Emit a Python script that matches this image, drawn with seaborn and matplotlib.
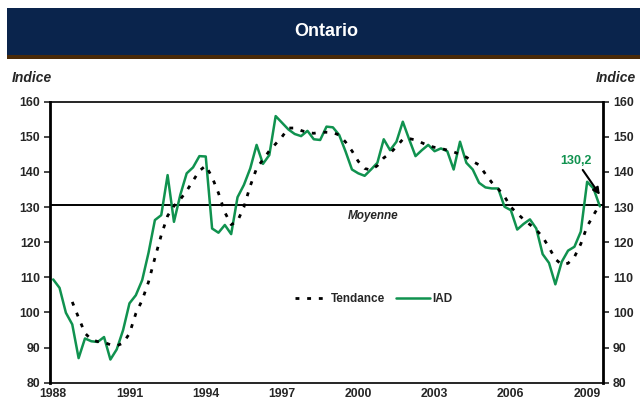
import pandas as pd
import seaborn as sns
import matplotlib.pyplot as plt
from matplotlib.patches import Rectangle

# quarterly data, 1988Q1 .. 2009Q3
iad = [109.4, 107.0, 99.9, 96.6, 87.0, 92.6, 91.8, 91.6, 93.0, 86.6,
       89.5, 95.0, 102.6, 104.9, 109.2, 117.0, 126.3, 127.7, 139.1, 125.8,
       133.5, 139.6, 141.3, 144.5, 144.4, 123.9, 122.7, 124.9, 122.3, 132.8,
       136.3, 141.0, 147.7, 142.3, 144.8, 155.9, 154.0, 152.1, 150.8, 150.2,
       151.7, 149.3, 149.1, 152.9, 152.7, 150.5, 145.8, 140.7, 139.6, 138.9,
       140.7, 142.6, 149.3, 146.2, 148.6, 154.3, 149.3, 144.5, 146.2, 147.7,
       145.9, 146.7, 145.9, 140.7, 148.6, 142.6, 140.7, 136.9, 135.6, 135.3,
       135.3, 130.1, 129.1, 123.6, 125.2, 126.5, 123.9, 116.6, 114.1, 108.0,
       114.4, 117.6, 118.7, 123.0, 137.2, 135.3, 130.2]

tendance = [None, None, None, 103.0, 98.5, 94.1, 92.3, 91.7, 91.5, 90.8,
            90.5, 91.3, 94.0, 99.7, 103.5, 108.7, 115.5, 122.0, 127.5, 130.3,
            132.2, 134.6, 137.5, 140.3, 141.8, 138.5, 134.0, 128.5, 125.0, 126.0,
            130.0, 136.0, 141.0, 143.5, 146.0, 148.0, 150.0, 152.5, 152.5, 151.8,
            151.2, 151.0, 151.3, 151.3, 151.2, 150.5, 148.5, 146.0, 143.0, 141.0,
            140.5, 141.8, 144.0, 145.3, 147.2, 149.3, 149.5, 149.1, 148.3, 147.5,
            147.0, 146.7, 146.2, 145.7, 145.0, 144.2, 143.0, 142.0, 139.4, 137.0,
            135.2, 133.0, 130.0, 128.2, 126.5, 125.0, 123.5, 121.5, 118.5, 115.2,
            113.6, 114.0, 115.8, 119.5, 124.5, 127.7, 130.8]

moyenne = 130.6
year_labels = ["1988", "1991", "1994", "1997", "2000", "2003", "2006", "2009"]

df = pd.DataFrame({"t": range(len(iad)), "IAD": iad,
                   "Tendance": pd.to_numeric(pd.Series(tendance), errors="coerce")})

sns.set_style("white")
plt.rcParams['font.family'] = ['Liberation Sans', 'DejaVu Sans']
plt.rcParams['font.weight'] = 'bold'

green = "#10924f"

fig = plt.figure(figsize=(6.42, 4.04), dpi=100)
ax = fig.add_axes([0.0779, 0.0527, 0.8614, 0.6956])

# title banner
fig.patches.append(Rectangle((0.011, 0.864), 0.986, 0.116, transform=fig.transFigure,
                             facecolor="#0a244c", edgecolor="none"))
fig.patches.append(Rectangle((0.011, 0.853), 0.986, 0.012, transform=fig.transFigure,
                             facecolor="#4a2a08", edgecolor="none"))
fig.text(0.508, 0.921, "Ontario", color="white", fontsize=13, fontweight="bold",
         ha="center", va="center")
fig.text(0.019, 0.808, "Indice", fontsize=10, fontweight="bold", style="italic",
         ha="left", va="center")
fig.text(0.99, 0.808, "Indice", fontsize=10, fontweight="bold", style="italic",
         ha="right", va="center")

ax.axhline(moyenne, color="black", lw=1.4, zorder=1)
sns.lineplot(data=df, x="t", y="Tendance", ax=ax, color="black", lw=2,
             linestyle=(0, (1.4, 2.8)), label="Tendance", zorder=3)
sns.lineplot(data=df, x="t", y="IAD", ax=ax, color=green, lw=1.8,
             label="IAD", zorder=2)

ax.set_xlim(-0.5, len(iad) - 0.5)
ax.set_ylim(80, 160)
ax.set_xticks(range(0, len(iad), 12))
ax.set_xticklabels(year_labels)
ax.set_yticks(range(80, 161, 10))
ax.set_xlabel("")
ax.set_ylabel("")
ax.tick_params(axis="x", length=0, labelsize=8.8, pad=4)
ax.tick_params(axis="y", length=4, width=1.2, labelsize=8.8, left=True,
               right=True, labelright=True, direction="out", pad=3)
for s in ax.spines.values():
    s.set_color("black")
    s.set_linewidth(1.2)
ax.spines["left"].set_linewidth(2)
ax.spines["right"].set_linewidth(2)

ax.text(0.585, 0.595, "Moyenne", transform=ax.transAxes, fontsize=8.5,
        fontweight="bold", style="italic", ha="center", va="center")

ax.annotate("130,2", xy=(len(iad) - 1, 133.5), xytext=(82.3, 141.5),
            color=green, fontsize=9, fontweight="bold", ha="center", va="bottom",
            arrowprops=dict(arrowstyle="-|>", color="black", lw=1.5,
                            mutation_scale=10, shrinkA=0, shrinkB=0))

ax.legend(loc="center", bbox_to_anchor=(0.585, 0.298), ncol=2, frameon=False,
          fontsize=8.5, handlelength=2.8, columnspacing=1.0, handletextpad=0.2)

fig.savefig("out.png", dpi=100)
